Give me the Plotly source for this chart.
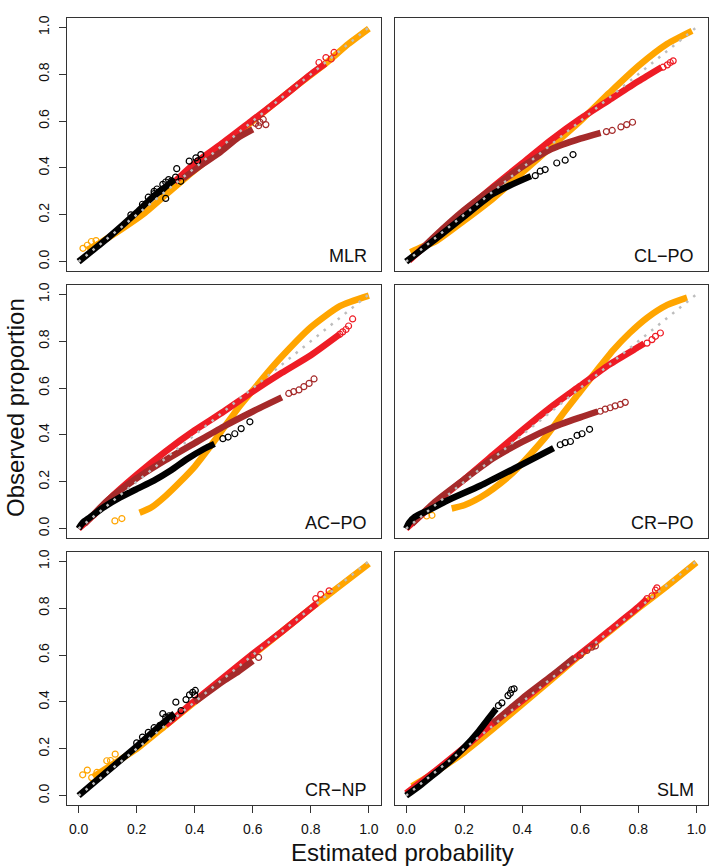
import plotly.graph_objects as go
from plotly.subplots import make_subplots

# ---------------- data ----------------
PANEL_LABELS = ["MLR", "CL\u2212PO", "AC\u2212PO", "CR\u2212PO", "CR\u2212NP", "SLM"]
TICK_VALUES = [0.0, 0.2, 0.4, 0.6, 0.8, 1.0]
TICK_LABELS = ["0.0", "0.2", "0.4", "0.6", "0.8", "1.0"]
X_TITLE = "Estimated probability"
Y_TITLE = "Observed proportion"

# Each series: dense run of overlapping circles (band) + separately visible circles
MLR_ORANGE = [(0.03, 0.05), (0.08, 0.085), (0.15, 0.14), (0.22, 0.2), (0.3, 0.285), (0.375, 0.365),
              (0.45, 0.44), (0.6, 0.6), (0.75, 0.75), (0.85, 0.845), (0.93, 0.93), (1.0, 0.995)]
MLR_ORANGE_PTS = [(0.015, 0.057), (0.044, 0.086), (0.03, 0.07), (0.06, 0.09)]
MLR_RED = [(0.33, 0.34), (0.4, 0.42), (0.5, 0.51), (0.6, 0.605), (0.7, 0.7), (0.8, 0.8), (0.85, 0.845)]
MLR_RED_PTS = [(0.828, 0.85), (0.852, 0.871), (0.87, 0.865), (0.88, 0.893)]
MLR_BROWN = [(0.36, 0.355), (0.42, 0.41), (0.49, 0.47), (0.55, 0.53), (0.6, 0.565)]
MLR_BROWN_PTS = [(0.62, 0.58), (0.636, 0.607), (0.625, 0.595), (0.645, 0.585), (0.61, 0.59)]
MLR_BLACK = [(0.0, 0.0), (0.05, 0.05), (0.1, 0.1), (0.2, 0.21), (0.25, 0.27), (0.3, 0.32), (0.33, 0.35)]
MLR_BLACK_PTS = [(0.3, 0.27), (0.31, 0.35), (0.334, 0.361), (0.338, 0.397), (0.352, 0.343), (0.381, 0.429),
                 (0.404, 0.443), (0.41, 0.43), (0.421, 0.457), (0.28, 0.3), (0.26, 0.29), (0.29, 0.31),
                 (0.24, 0.275), (0.26, 0.3), (0.27, 0.31), (0.29, 0.33), (0.22, 0.245), (0.18, 0.2),
                 (0.32, 0.345), (0.3, 0.34)]

CLPO_ORANGE = [(0.015, 0.04), (0.05, 0.06), (0.1, 0.085), (0.2, 0.175), (0.3, 0.27), (0.4, 0.38),
               (0.5, 0.49), (0.6, 0.6), (0.7, 0.72), (0.8, 0.835), (0.9, 0.93), (0.985, 0.985)]
CLPO_ORANGE_PTS = []
CLPO_RED = [(0.01, 0.005), (0.1, 0.105), (0.2, 0.215), (0.3, 0.32), (0.4, 0.42), (0.5, 0.52),
            (0.6, 0.61), (0.7, 0.69), (0.8, 0.77), (0.88, 0.83)]
CLPO_RED_PTS = [(0.885, 0.83), (0.9, 0.84), (0.91, 0.85), (0.92, 0.857)]
CLPO_BROWN = [(0.05, 0.05), (0.1, 0.11), (0.2, 0.22), (0.3, 0.315), (0.4, 0.405), (0.5, 0.48),
              (0.6, 0.525), (0.67, 0.55)]
CLPO_BROWN_PTS = [(0.69, 0.555), (0.71, 0.56), (0.74, 0.575), (0.76, 0.585), (0.78, 0.595)]
CLPO_BLACK = [(0.0, 0.0), (0.1, 0.095), (0.2, 0.193), (0.3, 0.29), (0.43, 0.365)]
CLPO_BLACK_PTS = [(0.445, 0.367), (0.462, 0.386), (0.479, 0.393), (0.519, 0.421), (0.548, 0.433), (0.575, 0.457)]

ACPO_ORANGE = [(0.21, 0.068), (0.25, 0.09), (0.3, 0.14), (0.35, 0.2), (0.4, 0.265), (0.45, 0.345),
               (0.5, 0.43), (0.55, 0.515), (0.6, 0.59), (0.65, 0.665), (0.7, 0.735), (0.8, 0.86),
               (0.9, 0.95), (1.0, 0.995)]
ACPO_ORANGE_PTS = [(0.125, 0.033), (0.149, 0.043)]
ACPO_RED = [(0.0, 0.0), (0.05, 0.055), (0.1, 0.12), (0.2, 0.23), (0.3, 0.33), (0.4, 0.42), (0.5, 0.50),
            (0.6, 0.585), (0.7, 0.665), (0.8, 0.74), (0.9, 0.83)]
ACPO_RED_PTS = [(0.9, 0.83), (0.91, 0.84), (0.921, 0.85), (0.93, 0.865), (0.944, 0.895)]
ACPO_BROWN = [(0.02, 0.02), (0.1, 0.12), (0.2, 0.215), (0.3, 0.293), (0.4, 0.365), (0.5, 0.436),
              (0.6, 0.50), (0.7, 0.56)]
ACPO_BROWN_PTS = [(0.724, 0.577), (0.741, 0.585), (0.759, 0.592), (0.776, 0.606), (0.794, 0.62), (0.811, 0.639)]
ACPO_BLACK = [(0.0, 0.0), (0.014, 0.025), (0.038, 0.047), (0.085, 0.09), (0.143, 0.133), (0.2, 0.169),
              (0.259, 0.205), (0.317, 0.248), (0.375, 0.298), (0.433, 0.341), (0.468, 0.362)]
ACPO_BLACK_PTS = [(0.497, 0.384), (0.515, 0.391), (0.538, 0.405), (0.56, 0.427), (0.59, 0.456)]

CRPO_ORANGE = [(0.157, 0.086), (0.2, 0.1), (0.255, 0.133), (0.3, 0.17), (0.37, 0.241), (0.43, 0.32),
               (0.485, 0.398), (0.54, 0.49), (0.6, 0.585), (0.66, 0.68), (0.715, 0.764), (0.77, 0.835),
               (0.83, 0.9), (0.9, 0.955), (0.968, 0.986)]
CRPO_ORANGE_PTS = [(0.071, 0.054), (0.089, 0.057)]
CRPO_RED = [(0.0, 0.0), (0.1, 0.11), (0.2, 0.21), (0.3, 0.315), (0.4, 0.42), (0.5, 0.52), (0.6, 0.61),
            (0.7, 0.70), (0.8, 0.775), (0.82, 0.79)]
CRPO_RED_PTS = [(0.83, 0.792), (0.847, 0.807), (0.859, 0.821), (0.876, 0.835)]
CRPO_BROWN = [(0.02, 0.02), (0.1, 0.115), (0.2, 0.21), (0.3, 0.30), (0.4, 0.37), (0.5, 0.43),
              (0.6, 0.475), (0.66, 0.50)]
CRPO_BROWN_PTS = [(0.669, 0.501), (0.686, 0.51), (0.703, 0.516), (0.72, 0.524), (0.738, 0.53), (0.755, 0.539)]
CRPO_BLACK = [(0.0, 0.0), (0.01, 0.025), (0.03, 0.05), (0.08, 0.08), (0.14, 0.119), (0.255, 0.183),
              (0.37, 0.255), (0.508, 0.344)]
CRPO_BLACK_PTS = [(0.531, 0.358), (0.548, 0.367), (0.566, 0.372), (0.589, 0.398), (0.606, 0.405), (0.632, 0.424)]

CRNP_ORANGE = [(0.05, 0.08), (0.1, 0.12), (0.2, 0.2), (0.3, 0.3), (0.4, 0.4), (0.5, 0.5), (0.6, 0.6),
               (0.7, 0.7), (0.8, 0.8), (0.9, 0.895), (1.0, 0.99)]
CRNP_ORANGE_PTS = [(0.014, 0.089), (0.03, 0.109), (0.045, 0.077), (0.063, 0.099), (0.097, 0.149),
                   (0.126, 0.177), (0.11, 0.15)]
CRNP_RED = [(0.3, 0.3), (0.4, 0.405), (0.5, 0.505), (0.6, 0.605), (0.7, 0.7), (0.8, 0.8), (0.82, 0.82)]
CRNP_RED_PTS = [(0.817, 0.841), (0.834, 0.859), (0.863, 0.874)]
CRNP_BROWN = [(0.4, 0.4), (0.5, 0.49), (0.55, 0.53), (0.6, 0.575)]
CRNP_BROWN_PTS = [(0.62, 0.59), (0.6, 0.6)]
CRNP_BLACK = [(0.0, 0.0), (0.1, 0.105), (0.2, 0.21), (0.25, 0.265), (0.3, 0.32), (0.33, 0.35)]
CRNP_BLACK_PTS = [(0.335, 0.399), (0.382, 0.43), (0.393, 0.441), (0.402, 0.449), (0.353, 0.363),
                  (0.312, 0.341), (0.4, 0.43), (0.37, 0.41), (0.29, 0.35), (0.32, 0.33),
                  (0.24, 0.27), (0.26, 0.29), (0.28, 0.3), (0.2, 0.225), (0.22, 0.25), (0.3, 0.335)]

SLM_ORANGE = [(0.02, 0.04), (0.1, 0.1), (0.2, 0.185), (0.3, 0.285), (0.4, 0.39), (0.5, 0.495), (0.6, 0.6),
              (0.7, 0.7), (0.8, 0.8), (0.9, 0.895), (1.0, 0.995)]
SLM_ORANGE_PTS = []
SLM_RED = [(0.0, 0.01), (0.1, 0.105), (0.2, 0.205), (0.3, 0.31), (0.4, 0.405), (0.5, 0.505), (0.6, 0.605),
           (0.7, 0.705), (0.8, 0.805), (0.83, 0.84)]
SLM_RED_PTS = [(0.83, 0.841), (0.847, 0.853), (0.859, 0.877), (0.864, 0.887)]
SLM_BROWN = [(0.3, 0.31), (0.4, 0.415), (0.5, 0.51), (0.58, 0.59)]
SLM_BROWN_PTS = [(0.6, 0.599), (0.623, 0.62), (0.64, 0.634), (0.652, 0.639)]
SLM_BLACK = [(0.0, 0.0), (0.05, 0.045), (0.1, 0.095), (0.15, 0.145), (0.2, 0.205), (0.25, 0.275),
             (0.3, 0.355), (0.31, 0.37)]
SLM_BLACK_PTS = [(0.318, 0.384), (0.33, 0.396), (0.351, 0.427), (0.359, 0.437), (0.364, 0.453), (0.372, 0.456)]

PANELS = [
    [(MLR_ORANGE, MLR_ORANGE_PTS), (MLR_RED, MLR_RED_PTS), (MLR_BROWN, MLR_BROWN_PTS), (MLR_BLACK, MLR_BLACK_PTS)],
    [(CLPO_ORANGE, CLPO_ORANGE_PTS), (CLPO_RED, CLPO_RED_PTS), (CLPO_BROWN, CLPO_BROWN_PTS), (CLPO_BLACK, CLPO_BLACK_PTS)],
    [(ACPO_ORANGE, ACPO_ORANGE_PTS), (ACPO_RED, ACPO_RED_PTS), (ACPO_BROWN, ACPO_BROWN_PTS), (ACPO_BLACK, ACPO_BLACK_PTS)],
    [(CRPO_ORANGE, CRPO_ORANGE_PTS), (CRPO_RED, CRPO_RED_PTS), (CRPO_BROWN, CRPO_BROWN_PTS), (CRPO_BLACK, CRPO_BLACK_PTS)],
    [(CRNP_ORANGE, CRNP_ORANGE_PTS), (CRNP_RED, CRNP_RED_PTS), (CRNP_BROWN, CRNP_BROWN_PTS), (CRNP_BLACK, CRNP_BLACK_PTS)],
    [(SLM_ORANGE, SLM_ORANGE_PTS), (SLM_RED, SLM_RED_PTS), (SLM_BROWN, SLM_BROWN_PTS), (SLM_BLACK, SLM_BLACK_PTS)],
]
DIAG = [0.0, 1.0]

# ---------------- styles ----------------
COLORS = ["#FFA500", "#EE1C25", "#A52A2A", "#000000"]
FONT = "Liberation Sans, Arial, Helvetica, sans-serif"
W, H = 709, 867
ML, MR, MT, MB = 67, 1, 18, 62
PW, PH = W - ML - MR, H - MT - MB

fig = make_subplots(rows=3, cols=2, horizontal_spacing=14 / PW, vertical_spacing=14 / PH)

for i, series in enumerate(PANELS):
    r, c = i // 2 + 1, i % 2 + 1
    for (band, pts), col in zip(series, COLORS):
        fig.add_trace(go.Scatter(
            x=[p[0] for p in band], y=[p[1] for p in band], mode="lines",
            line=dict(color=col, width=6.5, shape="spline", smoothing=0.6),
            hoverinfo="skip"), row=r, col=c)
        if pts:
            fig.add_trace(go.Scatter(
                x=[p[0] for p in pts], y=[p[1] for p in pts], mode="markers",
                marker=dict(symbol="circle-open", size=6, color=col, line=dict(width=1.2, color=col)),
                hoverinfo="skip"), row=r, col=c)
    fig.add_trace(go.Scatter(
        x=DIAG, y=DIAG, mode="lines",
        line=dict(color="#BDBDBD", width=2.5, dash="2.5px,6.5px"),
        hoverinfo="skip"), row=r, col=c)

    idx = i + 1
    xa = "x" if idx == 1 else f"x{idx}"
    ya = "y" if idx == 1 else f"y{idx}"
    fig.add_annotation(text=PANEL_LABELS[i], xref=f"{xa} domain", yref=f"{ya} domain",
                       x=0.963, y=0.06, xanchor="right", yanchor="middle", showarrow=False,
                       font=dict(family=FONT, size=18, color="#111"))

    fig.update_xaxes(row=r, col=c, range=[-0.04, 1.04], showgrid=False, zeroline=False,
                     showline=True, mirror=True, linecolor="#333", linewidth=1.2,
                     tickvals=TICK_VALUES, ticktext=TICK_LABELS,
                     ticks="outside" if r == 3 else "", ticklen=7, tickcolor="#333", tickwidth=1,
                     ticklabelstandoff=4,
                     showticklabels=(r == 3), tickfont=dict(family=FONT, size=14, color="#111"))
    fig.update_yaxes(row=r, col=c, range=[-0.04, 1.04], showgrid=False, zeroline=False,
                     showline=True, mirror=True, linecolor="#333", linewidth=1.2,
                     tickvals=TICK_VALUES, ticktext=TICK_LABELS, tickangle=-90,
                     ticks="outside" if c == 1 else "", ticklen=7, tickcolor="#333", tickwidth=1,
                     ticklabelstandoff=4,
                     showticklabels=(c == 1), tickfont=dict(family=FONT, size=14, color="#111"))

# axis titles (positions given in window pixels, converted to paper units)
fig.add_annotation(text=X_TITLE, xref="paper", yref="paper", x=(402.5 - ML) / PW,
                   y=(805 - 852) / PH, xanchor="center", yanchor="middle", showarrow=False,
                   font=dict(family=FONT, size=24, color="#111"))
fig.add_annotation(text=Y_TITLE, xref="paper", yref="paper", x=(15 - ML) / PW,
                   y=(805 - 408) / PH, xanchor="center", yanchor="middle", showarrow=False,
                   textangle=-90, font=dict(family=FONT, size=24, color="#111"))

fig.update_layout(width=W, height=H, margin=dict(l=ML, r=MR, t=MT, b=MB),
                  plot_bgcolor="white", paper_bgcolor="white", showlegend=False)

# remove the default 8px page margin so the figure fills the window exactly
fig.write_html("out.html", config={"displayModeBar": False},
               post_script="document.body.style.margin='0px';document.body.style.overflow='hidden';")
